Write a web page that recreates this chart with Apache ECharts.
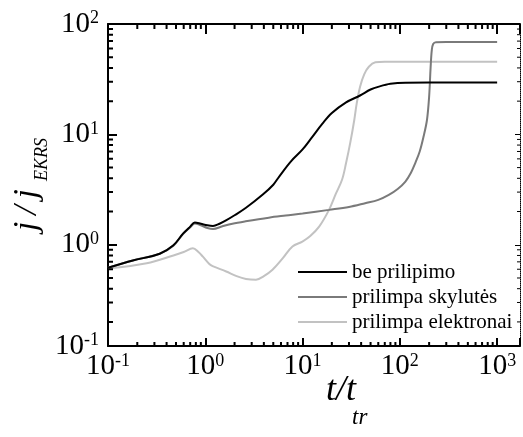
<!DOCTYPE html>
<html><head><meta charset="utf-8">
<script src="https://cdn.jsdelivr.net/npm/echarts@6/dist/echarts.min.js"></script>
<style>html,body{margin:0;padding:0;background:#fff}#c{width:523px;height:437px}</style>
</head><body><div id="c"></div>
<script>
const seriesNames = ['be prilipimo', 'prilimpa skylutės', 'prilimpa elektronai'];
const seriesColors = ['#000000', '#7a7a7a', '#c2c2c2'];

const beX = [0.1, 0.18, 0.34, 0.47, 0.59, 0.7, 0.78, 0.9, 1.05, 1.2, 1.4, 1.65, 2.0, 2.6, 3.9, 5.0, 5.75, 7.6, 10, 12.6, 16, 20, 28, 39, 50, 61, 80, 114, 200, 1000];
const beY = [0.62, 0.72, 0.83, 0.99, 1.26, 1.46, 1.59, 1.55, 1.5, 1.48, 1.55, 1.67, 1.85, 2.15, 2.85, 3.5, 4.15, 5.7, 7.3, 9.5, 12.5, 15.6, 19.5, 22.5, 25.5, 27.1, 28.7, 29.4, 29.5, 29.5];

const skX = [0.1, 0.18, 0.34, 0.47, 0.59, 0.7, 0.78, 0.9, 1.05, 1.2, 1.5, 1.9, 2.6, 4.5, 6.7, 10, 18.7, 30, 44, 60, 77, 95, 114, 130, 144, 160, 175, 190, 200, 207, 213, 220, 235, 300, 1000];
const skY = [0.62, 0.72, 0.83, 0.98, 1.25, 1.44, 1.56, 1.5, 1.42, 1.39, 1.47, 1.55, 1.63, 1.76, 1.84, 1.92, 2.07, 2.2, 2.38, 2.55, 2.83, 3.2, 3.74, 4.5, 5.5, 7, 9.5, 13.5, 22, 40, 58, 66, 68.5, 68.7, 68.7];

const elX = [0.1, 0.25, 0.47, 0.6, 0.746, 0.85, 0.945, 1.1, 1.19, 1.64, 2.1, 2.62, 3.32, 4.0, 4.91, 6.3, 7.87, 9.96, 12, 14.8, 18.7, 22, 25.5, 28, 31, 34, 36, 39, 43, 48, 56, 70, 1000];
const elY = [0.61, 0.68, 0.8, 0.86, 0.93, 0.86, 0.78, 0.67, 0.64, 0.573, 0.52, 0.49, 0.482, 0.52, 0.594, 0.76, 0.965, 1.07, 1.2, 1.46, 2.07, 2.9, 3.9, 5.5, 8.5, 13.5, 19, 27, 35, 41, 45, 45.6, 45.6];

const xMin = 0.1, xMax = 1718;
const yMin = 0.121, yMax = 100;
const xMajorTicks = [0.1, 1, 10, 100, 1000];
const yMajorTicks = [1, 10, 100];
const minorMultipliers = [2, 3, 4, 5, 6, 7, 8, 9];
const xDecades = [0.1, 1, 10, 100];
const yDecades = [0.1, 1, 10];

const xMinorTicks = [];
xDecades.forEach(d => minorMultipliers.forEach(m => xMinorTicks.push(d * m)));
const yMinorTicks = [];
yDecades.forEach(d => minorMultipliers.forEach(m => { if (d * m > yMin) yMinorTicks.push(d * m); }));

const zip = (a, b) => a.map((v, i) => [v, b[i]]);
const FONT = 'Liberation Serif';

function powLabel(v) {
  const l = Math.log10(v);
  const e = Math.round(l);
  if (Math.abs(l - e) > 1e-6) return '';
  return '{b|10}{s|' + e + '}';
}
const labelRich = {
  b: { fontFamily: FONT, fontSize: 29, color: '#000' },
  s: { fontFamily: FONT, fontSize: 18, color: '#000', verticalAlign: 'top' }
};

const chart = echarts.init(document.getElementById('c'), null, { renderer: 'canvas' });

function lineSeries(name, xs, ys, color, z) {
  return {
    name: name, type: 'line', data: zip(xs, ys), showSymbol: false, symbol: 'none',
    smooth: 0.35, lineStyle: { color: color, width: 2 }, itemStyle: { color: color },
    z: z, silent: true
  };
}

const dataSeries = [
  lineSeries(seriesNames[2], elX, elY, seriesColors[2], 2),
  lineSeries(seriesNames[1], skX, skY, seriesColors[1], 3),
  lineSeries(seriesNames[0], beX, beY, seriesColors[0], 4)
];

const option = {
  animation: false,
  backgroundColor: '#fff',
  grid: { left: 108, right: 1, top: 24, bottom: 91, containLabel: false },
  legend: {
    data: seriesNames.map(n => ({ name: n, icon: 'rect' })),
    orient: 'vertical',
    left: 293, top: 255,
    itemWidth: 49, itemHeight: 2, itemGap: 1,
    textStyle: { fontFamily: FONT, fontSize: 21, color: '#000', lineHeight: 24 },
    selectedMode: false
  },
  xAxis: [
    {
      type: 'log', logBase: 10, min: xMin, max: xMax, position: 'bottom',
      axisLine: { show: true, lineStyle: { color: '#000', width: 2 } },
      axisTick: { show: true, inside: true, length: 8, lineStyle: { color: '#000', width: 2 } },
      minorTick: { show: false },
      splitLine: { show: false }, minorSplitLine: { show: false },
      axisLabel: { formatter: powLabel, rich: labelRich, margin: 6, showMinLabel: true, showMaxLabel: true }
    },
    {
      type: 'log', logBase: 10, min: xMin, max: xMax, position: 'top',
      axisLine: { show: true, lineStyle: { color: '#000', width: 2 } },
      axisTick: { show: true, inside: true, length: 10, lineStyle: { color: '#000', width: 2 } },
      axisLabel: { show: false }, splitLine: { show: false }
    }
  ],
  yAxis: [
    {
      type: 'log', logBase: 10, min: yMin, max: yMax, position: 'left',
      axisLine: { show: true, lineStyle: { color: '#000', width: 2 } },
      axisTick: { show: true, inside: true, length: 9, lineStyle: { color: '#000', width: 2 } },
      minorTick: { show: false },
      splitLine: { show: false }, minorSplitLine: { show: false },
      axisLabel: {
        formatter: v => (v < 0.2 ? '{b|10}{s|-1}' : powLabel(v)),
        rich: labelRich, margin: 9, showMinLabel: true, showMaxLabel: true
      }
    },
    {
      type: 'log', logBase: 10, min: yMin, max: yMax, position: 'right',
      axisLine: { show: true, lineStyle: { color: '#000', width: 1, type: 'dotted' } },
      axisTick: { show: true, inside: true, length: 5, lineStyle: { color: '#000', width: 1 } },
      axisLabel: { show: false }, splitLine: { show: false }
    }
  ],
  series: dataSeries,
  graphic: [
    {
      type: 'group', x: 27, y: 231, rotation: Math.PI / 2,
      children: [
        { type: 'text', x: 0, y: 0, style: { text: 'j\u2009/\u2009j', fontFamily: FONT, fontStyle: 'italic', fontSize: 34, fill: '#000', align: 'left', verticalAlign: 'middle' } },
        { type: 'text', x: 50, y: 15, style: { text: 'EKRS', fontFamily: FONT, fontStyle: 'italic', fontSize: 18, fill: '#000', align: 'left', verticalAlign: 'middle' } }
      ]
    },
    { type: 'text', x: 326, y: 391, style: { text: 't/t', fontFamily: FONT, fontStyle: 'italic', fontSize: 36, fill: '#000', align: 'left', verticalAlign: 'middle' } },
    { type: 'text', x: 352, y: 418, style: { text: 'tr', fontFamily: FONT, fontStyle: 'italic', fontSize: 23, fill: '#000', align: 'left', verticalAlign: 'middle' } }
  ]
};
chart.setOption(option);

// Minor (log) ticks, drawn as short segments placed through the chart's own axis scales
const toPx = (x, y) => chart.convertToPixel({ gridIndex: 0 }, [x, y]);
const toVal = (px, py) => chart.convertFromPixel({ gridIndex: 0 }, [px, py]);
const gL = toPx(xMin, 1)[0], gR = toPx(xMax, 1)[0], gT = toPx(1, yMax)[1], gB = toPx(1, yMin)[1];
const yAtBottomIn = len => toVal(gL, gB - len)[1];
const yAtTopIn = len => toVal(gL, gT + len)[1];
const xAtLeftIn = len => toVal(gL + len, gB)[0];
const xAtRightIn = len => toVal(gR - len, gB)[0];

const thickSegs = [];
const thinSegs = [];
function addSeg(arr, a, b) { arr.push(a, b, '-'); }
xMinorTicks.forEach(v => {
  addSeg(thickSegs, [v, yMin], [v, yAtBottomIn(4)]);
  addSeg(thickSegs, [v, yMax], [v, yAtTopIn(5)]);
});
yMinorTicks.forEach(v => {
  addSeg(thickSegs, [xMin, v], [xAtLeftIn(5), v]);
  addSeg(thinSegs, [xMax, v], [xAtRightIn(3), v]);
});

function tickLineSeries(name, data, width) {
  return {
    name: name, type: 'line', data: data, showSymbol: false, symbol: 'none',
    connectNulls: false, clip: false, smooth: false, silent: true, z: 6,
    lineStyle: { color: '#000', width: width, cap: 'butt' }
  };
}
chart.setOption({
  series: dataSeries.concat([
    tickLineSeries('ticksThick', thickSegs, 2),
    tickLineSeries('ticksThin', thinSegs, 1)
  ])
});
</script>
</body></html>
